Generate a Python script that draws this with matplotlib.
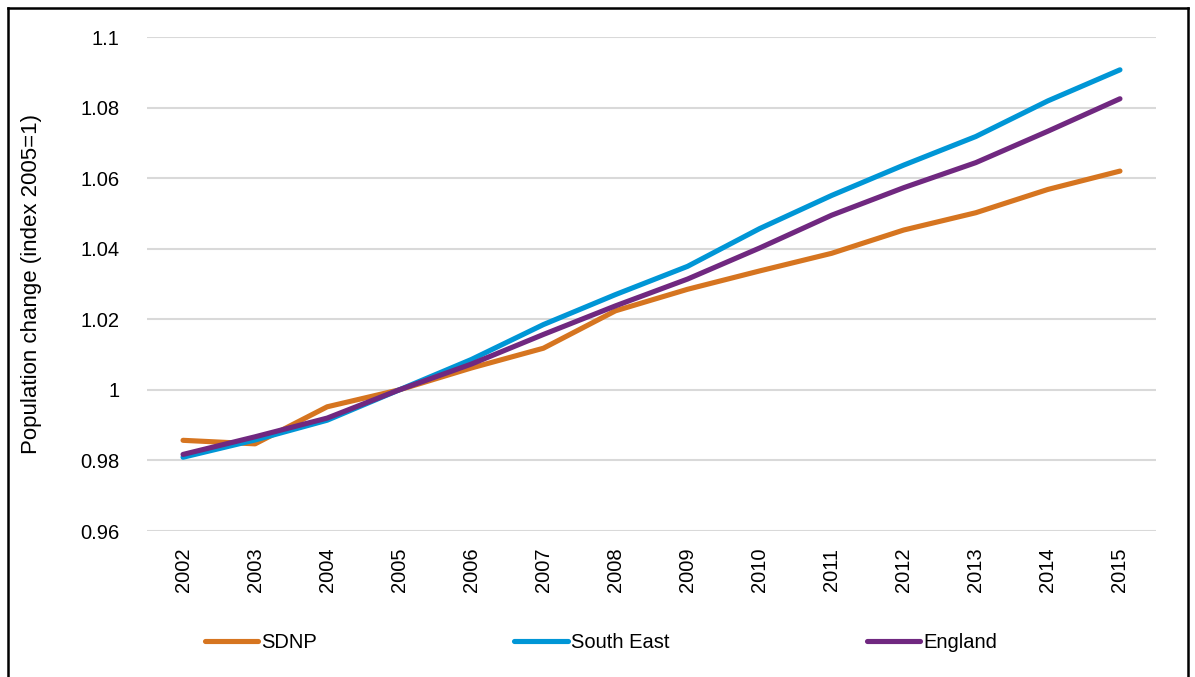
import matplotlib
matplotlib.use("Agg")
import matplotlib.pyplot as plt
from matplotlib.lines import Line2D
import numpy as np

plt.rcParams["font.family"] = ["Liberation Sans", "DejaVu Sans"]

years = [2002, 2003, 2004, 2005, 2006, 2007, 2008,
         2009, 2010, 2011, 2012, 2013, 2014, 2015]
sdnp = [0.9857, 0.9847, 0.9952, 1.0, 1.0062, 1.0118, 1.0224,
        1.0285, 1.0337, 1.0387, 1.0453, 1.0502, 1.0568, 1.0620]
south_east = [0.9809, 0.9858, 0.9914, 1.0, 1.0086, 1.0185, 1.0270,
              1.0350, 1.0457, 1.0551, 1.0637, 1.0718, 1.0819, 1.0907]
england = [0.9817, 0.9867, 0.9920, 1.0, 1.0073, 1.0157, 1.0238,
           1.0314, 1.0402, 1.0495, 1.0573, 1.0644, 1.0733, 1.0825]
yticks = [0.96, 0.98, 1.0, 1.02, 1.04, 1.06, 1.08, 1.1]
ytick_labels = ["0.96", "0.98", "1", "1.02", "1.04", "1.06", "1.08", "1.1"]

SERIES = [("SDNP", sdnp, "#D67520"),
          ("South East", south_east, "#0096D6"),
          ("England", england, "#702880")]

FS = 14.5
W, H = 1195, 677
fig = plt.figure(figsize=(W / 100, H / 100), dpi=100)
ax = fig.add_axes([147 / W, 1 - 531 / H, (1156 - 147) / W, (531 - 37) / H])

x = np.arange(len(years))
for name, vals, color in SERIES:
    ax.plot(x, vals, color=color, lw=3.7, solid_capstyle="round",
            solid_joinstyle="round", label=name, zorder=3)

ax.set_xlim(-0.5, len(years) - 0.5)
ax.set_ylim(0.96, 1.1)
ax.set_yticks(yticks)
ax.set_yticklabels(ytick_labels)
ax.set_xticks(x)
ax.set_xticklabels([str(y) for y in years], rotation=90)
ax.tick_params(axis="both", length=0, labelsize=FS, colors="black")
ax.tick_params(axis="y", pad=20)
ax.tick_params(axis="x", pad=12)
ax.yaxis.grid(True, color="#D9D9D9", lw=1.5)
ax.set_axisbelow(True)
for s in ax.spines.values():
    s.set_visible(False)
ax.set_ylabel("Population change (index 2005=1)", fontsize=16, labelpad=27)

fig.legend(loc="center", bbox_to_anchor=(601 / W, 1 - 643 / H), ncol=3,
           frameon=False, fontsize=FS, handlelength=2.65,
           handletextpad=0.15, columnspacing=9.8)

# outer frame (open at the bottom)
bx0, bx1, by0 = 8 / W, 1188 / W, 1 - 8 / H
for xs, ys in [([bx0, bx0], [0, by0]), ([bx0, bx1], [by0, by0]),
               ([bx1, bx1], [by0, 0])]:
    fig.add_artist(Line2D(xs, ys, color="black", lw=1.8,
                          transform=fig.transFigure))

fig.savefig("out.png", dpi=100)
